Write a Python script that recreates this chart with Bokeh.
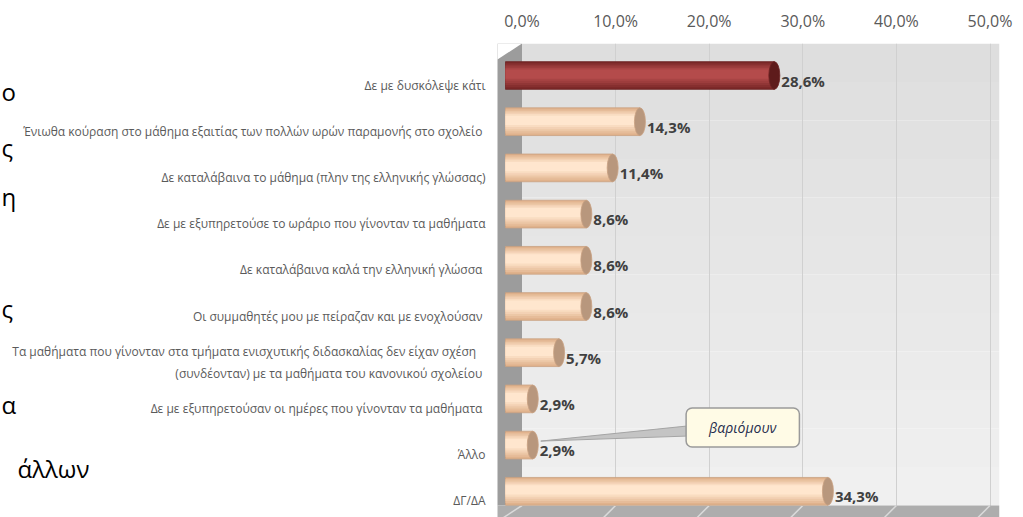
from bokeh.plotting import figure
from bokeh.models import Range1d, LinearAxis, FixedTicker, Grid, BoxAnnotation, Label
from bokeh.core.properties import value
from bokeh.embed import file_html
from bokeh.resources import INLINE

# ---------------- data ----------------
categories = [
    "Δε με δυσκόλεψε κάτι",
    "Ένιωθα  κούραση στο μάθημα εξαιτίας των πολλών ωρών παραμονής στο σχολείο",
    "Δε καταλάβαινα το μάθημα (πλην της ελληνικής γλώσσας)",
    "Δε με εξυπηρετούσε το ωράριο που γίνονταν τα μαθήματα",
    "Δε καταλάβαινα καλά την ελληνική  γλώσσα",
    "Οι συμμαθητές μου με πείραζαν  και με ενοχλούσαν",
    "Τα μαθήματα που γίνονταν στα τμήματα ενισχυτικής  διδασκαλίας  δεν  είχαν σχέση\n(συνδέονταν) με τα  μαθήματα του κανονικού σχολείου",
    "Δε με εξυπηρετούσαν οι ημέρες  που γίνονταν τα μαθήματα",
    "Άλλο",
    "ΔΓ/ΔΑ",
]
values = [28.6, 14.3, 11.4, 8.6, 8.6, 8.6, 5.7, 2.9, 2.9, 34.3]
x_ticks = [0, 10, 20, 30, 40, 50]
x_tick_labels = ["0,0%", "10,0%", "20,0%", "30,0%", "40,0%", "50,0%"]
callout_category = "Άλλο"
callout_text = "βαριόμουν"
# fragments of the surrounding document, at the left edge of the crop
page_fragments = ["ο", "ς", "η", "ς", "α", "άλλων"]

# ---------------- geometry (pixels) ----------------
W, H = 1023, 517
FL, FR, FT = 0, 999, 43             # frame edges
PX_X = 9.4                          # px per percent (bars)
PX_WALL = 9.36                      # px per percent (back wall)
PX_Y = 46.2                         # px per category
bar0 = 505                          # x of bar zero
wall0 = 521.5                       # x of back-wall zero
side_px = 497                       # x where the side wall starts
row0 = 75                           # y of first bar centre
floor_px = 505                      # y where floor begins
label_right = 485                   # x of category labels' right edge

x0 = (FL - bar0) / PX_X
x1 = x0 + (FR - FL) / PX_X
w0 = (FL - wall0) / PX_WALL
w1 = w0 + (FR - FL) / PX_WALL
y_top = (FT - row0) / PX_Y
y_bot = (H - row0) / PX_Y

n = len(categories)
idx = list(range(n))

p = figure(width=W, height=H, output_backend="svg", toolbar_location=None,
           x_range=Range1d(x0, x1), y_range=Range1d(y_bot, y_top),
           x_axis_type=None, y_axis_type=None,
           min_border_left=0, min_border_right=W - FR,
           min_border_top=FT, min_border_bottom=0)
p.outline_line_color = None
p.background_fill_color = "white"
p.border_fill_color = "white"
p.extra_x_ranges = {"wall": Range1d(w0, w1)}

# top axis (back wall scale)
xax = LinearAxis(x_range_name="wall", ticker=FixedTicker(ticks=x_ticks),
                 major_label_overrides=dict(zip(x_ticks, x_tick_labels)),
                 axis_line_color=None, major_tick_line_color=None, minor_tick_line_color=None,
                 major_label_standoff=6, major_label_text_font="Open Sans",
                 major_label_text_font_size="16px", major_label_text_color="#595959")
p.add_layout(xax, "above")

# back wall: soft vertical gradient
floor_top = (floor_px - row0) / PX_Y
side_w = (side_px - wall0) / PX_WALL
nb = 12
g0, g1 = 0xDE, 0xF0
for k in range(nb):
    a = y_top + (floor_top - y_top) * k / nb
    b = y_top + (floor_top - y_top) * (k + 1) / nb
    g = round(g0 + (g1 - g0) * k / (nb - 1))
    p.add_layout(BoxAnnotation(left=0, x_range_name="wall", top=a, bottom=b,
                               fill_color=f"#{g:02X}{g:02X}{g:02X}", fill_alpha=1,
                               line_color=None, level="underlay"))
grid = Grid(dimension=0, ticker=FixedTicker(ticks=x_ticks[1:]), x_range_name="wall",
            grid_line_color="#D0D0D0", grid_line_width=1)
p.add_layout(grid)
# side wall
p.add_layout(BoxAnnotation(left=side_w, right=0, x_range_name="wall", top=y_top, bottom=floor_top,
                           fill_color="#9C9C9C", fill_alpha=1, line_color=None, level="underlay"))
# floor
p.add_layout(BoxAnnotation(left=side_w, x_range_name="wall", top=floor_top, bottom=y_bot,
                           fill_color="#ADADAD", fill_alpha=1, line_color=None, level="underlay"))
# slanted top of the side wall
side_x = (side_px - bar0) / PX_X
wall_x = (wall0 - bar0) / PX_X
p.patch([side_x, wall_x, side_x], [y_top, y_top, y_top + 16 / PX_Y], fill_color="white", line_color=None)
# floor perspective lines
fx_back = [(wall0 + t * PX_WALL - bar0) / PX_X for t in x_ticks[1:]]
fx_front = [fx - 12 / PX_X for fx in fx_back]
p.segment(fx_back, [floor_top] * len(fx_back), fx_front, [y_bot] * len(fx_back),
          line_color="#DADADA", line_width=1.5)
p.segment([side_x], [floor_top + 16 / PX_Y], [wall_x], [floor_top], line_color="#DADADA", line_width=1.5)

# category labels
p.text(x=[0] * n, y=idx, text=categories, x_offset=label_right - bar0, y_offset=9.5,
       text_align="right", text_baseline="middle", text_font=value("Open Sans"),
       text_font_size="12px", text_color="#5A5A5A", text_line_height=1.3)

# bars (cylinder look: layered bands from edge to highlight)
is_first = [i == 0 for i in idx]
def mix(c1, c2, t):
    a = [int(c1[j:j + 2], 16) for j in (1, 3, 5)]
    b = [int(c2[j:j + 2], 16) for j in (1, 3, 5)]
    return "#" + "".join(f"{round(x + (y - x) * t):02X}" for x, y in zip(a, b))

edge_c = ("#7A2828", "#E0B28C")
hi_c = ("#B44B4B", "#FFE6CE")
cap = ["#5E1B1B" if f else "#B8977D" for f in is_first]
outline = ["#6B2222" if f else "#C9A182" for f in is_first]

heights = [0.6, 0.52, 0.44, 0.36, 0.28, 0.2]
for k, h in enumerate(heights):
    t = k / (len(heights) - 1)
    cols = [mix(edge_c[0], hi_c[0], t) if f else mix(edge_c[1], hi_c[1], t) for f in is_first]
    shift = 0.03 * t
    p.hbar(y=[i - shift for i in idx], left=0, right=values, height=h, fill_color=cols,
           line_color=outline if k == 0 else None, line_width=0.8)
p.ellipse(x=values, y=idx, width=11, height=0.6, width_units="screen", fill_color=cap,
          line_color=outline, line_width=0.8)

labels = [f"{v:.1f}".replace(".", ",") + "%" for v in values]
p.text(x=values, y=idx, text=labels, x_offset=7, y_offset=5, text_align="left",
       text_baseline="middle", text_font=value("Open Sans"), text_font_style="bold",
       text_font_size="15px", text_color="#404040")

# callout
ci = categories.index(callout_category)
cv = values[ci]
box_dx, box_dy, box_hw = 210, 17.6, 56.5
tip_x = cv + 8 / PX_X
base_x = cv + (box_dx - box_hw) / PX_X
p.patch([tip_x, base_x, base_x], [ci - 4 / PX_Y, ci - 9 / PX_Y, ci - 19 / PX_Y],
        fill_color="#C4C4C4", line_color="#A5A5A5", line_width=1)
p.add_layout(Label(x=cv, y=ci, x_offset=box_dx, y_offset=box_dy, text=callout_text,
                   text_align="center", text_baseline="middle", text_font="Open Sans",
                   text_font_style="italic", text_font_size="14px", text_color="#1F2D4D",
                   background_fill_color="#FFFBE6", background_fill_alpha=1,
                   border_line_color="#9A9A9A", border_line_width=1.5,
                   padding=(23, 10), border_radius=6))

# document fragments at the left edge (pixel placement of the crop)
frag_x_px = [1, 1, 1, 1, 1, 17]
frag_base_px = [91, 147, 196, 308, 404, 468]
for t, fx, fy in zip(page_fragments, frag_x_px, frag_base_px):
    p.text(x=[(fx - bar0) / PX_X], y=[(fy - row0) / PX_Y], text=[t], text_align="left",
           text_baseline="alphabetic", text_font=value("Open Sans"), text_font_size="24px",
           text_color="black")

open("out.html", "w").write(file_html(p, INLINE))
